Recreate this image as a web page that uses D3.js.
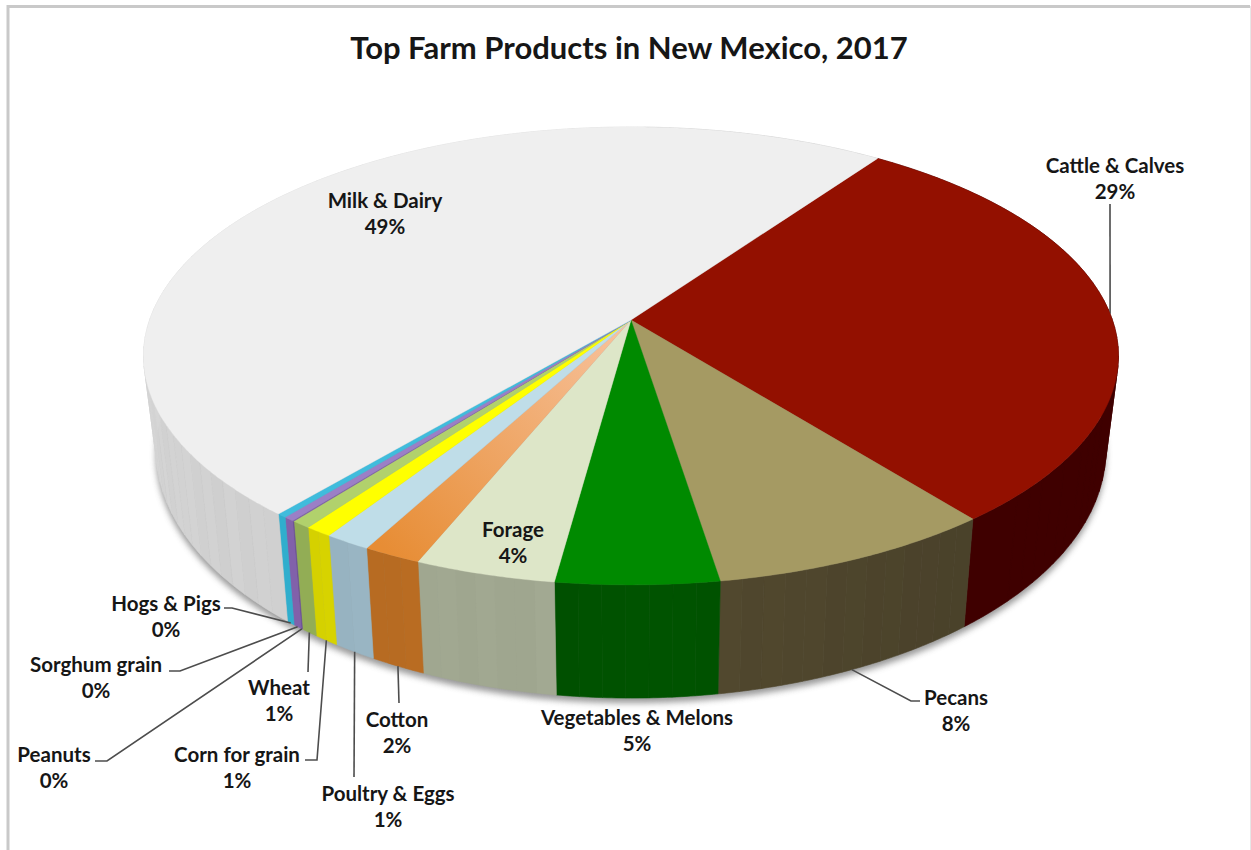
<!DOCTYPE html>
<html>
<head>
<meta charset="utf-8">
<title>Top Farm Products in New Mexico, 2017</title>
<script src="https://d3js.org/d3.v7.min.js"></script>
<style>
  html, body { margin: 0; padding: 0; background: #fff; }
  svg { display: block; }
  text { font-family: Lato, "Open Sans", sans-serif; fill: #161616; }
</style>
</head>
<body>
<div id="chart"></div>
<script>
// share of farm receipts, percent, clockwise from the top right
var products = ["Cattle & Calves", "Pecans", "Vegetables & Melons", "Forage", "Cotton",
  "Poultry & Eggs", "Corn for grain", "Wheat", "Peanuts", "Sorghum grain", "Hogs & Pigs", "Milk & Dairy"];
var shares = [29.49, 8.2, 4.65, 4.03, 1.67, 1.33, 0.78, 0.56, 0.05, 0.3, 0.28, 48.66];

var topColors = ["#931000", "#a59a63", "#008a00", "#dde6c8", "#e98f38", "#bfdde8",
  "#ffff00", "#b1d16c", "#7d5fa8", "#9b7fc6", "#40bcdc", "#efefef"];
var wallColors = ["#3f0000", "#4f462d", "#005000", "#a0a790", "#b86c22", "#98b4c2",
  "#d6d200", "#93ae55", "#6b4f94", "#8060a8", "#30aecd", "#d0d0d0"];

// label centre and baseline of the first line, then the leader's elbow points
var labelLayout = {
  "Cattle & Calves": { x: 1115, y: 173, leader: [[1110, 204]], rim: 0 },
  "Pecans": { x: 956, y: 705, leader: [[911, 701], [920, 701]], rim: 1 },
  "Vegetables & Melons": { x: 637, y: 725 },
  "Forage": { x: 513, y: 537 },
  "Cotton": { x: 397, y: 727, leader: [[399, 703]], rim: 1 },
  "Poultry & Eggs": { x: 388, y: 801, leader: [[354, 777]], rim: 1 },
  "Corn for grain": { x: 237, y: 762, leader: [[317, 760], [305, 760]], rim: 1 },
  "Wheat": { x: 279, y: 695, leader: [[308, 672]], rim: 1 },
  "Peanuts": { x: 54, y: 762, leader: [[107, 761], [95, 761]], rim: 1 },
  "Sorghum grain": { x: 96, y: 672, leader: [[180, 671], [169, 671]], rim: 1 },
  "Hogs & Pigs": { x: 166, y: 611, leader: [[232, 608], [224, 608]], rim: 1 },
  "Milk & Dairy": { x: 385, y: 208 }
};

var svgWidth = 1251;
var svgHeight = 850;

var svg = d3.select("#chart")
  .append("svg")
  .attr("width", svgWidth)
  .attr("height", svgHeight);

// outer frame, its bottom edge runs off the page
svg.append("path")
  .attr("d", `M8,${svgHeight + 5}V6.5H1250`)
  .attr("fill", "none")
  .attr("stroke", "#c9c9c9")
  .attr("stroke-width", 3);
svg.append("line")
  .attr("x1", 1250.5).attr("x2", 1250.5)
  .attr("y1", 6).attr("y2", svgHeight)
  .attr("stroke", "#e6e6e6");

svg.append("text")
  .attr("x", 629)
  .attr("y", 59)
  .attr("text-anchor", "middle")
  .attr("font-size", 31)
  .attr("font-weight", 700)
  .text("Top Farm Products in New Mexico, 2017");

var pie = d3.pie()
  .value(d => d.share)
  .sort(null)
  .startAngle(35.3 * Math.PI / 180)
  .endAngle(395.3 * Math.PI / 180);

var slices = pie(products.map((name, i) => ({
  name: name,
  share: shares[i],
  top: topColors[i],
  wall: wallColors[i]
})));

// perspective disc: level 0 is the top face, level 1 the bottom edge
var discs = [
  { cx: 631, cy: 320, sx: 481.4, sy: 223.3 },
  { cx: 631, cy: 411, sx: 469, sy: 242 }
];
var tilt = 0.157;

function project(angle, level) {
  var disc = discs[level];
  var u = Math.sin(angle);
  var v = -Math.cos(angle);
  var w = 1 - tilt * v;
  return [disc.cx + disc.sx * u / w, disc.cy + disc.sy * v / w];
}

function arcAngles(a0, a1, step) {
  var n = Math.max(1, Math.ceil((a1 - a0) / step));
  return d3.range(n + 1).map(i => a0 + (a1 - a0) * i / n);
}

var line = d3.line();
var fineStep = 0.5 * Math.PI / 180;
var facetStep = 2.4 * Math.PI / 180;

var defs = svg.append("defs");

var blur = defs.append("filter")
  .attr("id", "discShadow")
  .attr("x", "-10%").attr("y", "-10%")
  .attr("width", "120%").attr("height", "120%");
blur.append("feGaussianBlur").attr("stdDeviation", 3);

// the cotton face lightens towards the centre
var cotton = slices.find(d => d.data.name == "Cotton");
var cottonRim = project((cotton.startAngle + cotton.endAngle) / 2, 0);
var cottonFade = defs.append("linearGradient")
  .attr("id", "cottonFade")
  .attr("gradientUnits", "userSpaceOnUse")
  .attr("x1", discs[0].cx).attr("y1", discs[0].cy)
  .attr("x2", cottonRim[0]).attr("y2", cottonRim[1]);
cottonFade.append("stop").attr("offset", 0).attr("stop-color", "#f8c4a0");
cottonFade.append("stop").attr("offset", 1).attr("stop-color", "#e78d35");

// soft shadow under the bottom edge
svg.append("path")
  .attr("d", line(arcAngles(0, 2 * Math.PI, fineStep).map(a => project(a, 1))) + "Z")
  .attr("transform", "translate(0, 5)")
  .attr("fill", "#777")
  .attr("opacity", 0.75)
  .attr("filter", "url(#discShadow)");

// one quad of the rim wall between two angles, always wound the same way
function wallQuad(a0, a1) {
  var along = arcAngles(a0, a1, fineStep);
  var outline = along.map(a => project(a, 0))
    .concat(along.slice().reverse().map(a => project(a, 1)));
  if (d3.polygonArea(outline) < 0) outline.reverse();
  return line(outline) + "Z";
}

// walls are thin facets so the shading steps around the rim
var facetTone = [0.015, -0.01, 0.025, 0, 0.01, -0.02, 0.02, -0.015];
var wallShade = d3.scaleLinear()
  .domain([140, 175, 190, 225, 290])
  .range([-0.22, 0.12, 0, 0, 0.1])
  .clamp(true);

var walls = svg.append("g");
slices.forEach(function(d) {
  var edges = arcAngles(d.startAngle, d.endAngle, facetStep);
  var wedges = d3.pairs(edges);
  // the cattle wall is one flat colour, so its facets share a path
  if (d.data.name == "Cattle & Calves") {
    walls.append("path")
      .attr("d", wedges.map(p => wallQuad(p[0], p[1])).join(""))
      .attr("fill", d.data.wall)
      .attr("stroke", d.data.wall)
      .attr("stroke-width", 0.6);
    return;
  }
  wedges.forEach(function(pair) {
    var degrees = (pair[0] * 180 / Math.PI) % 360;
    var facet = Math.floor(pair[0] / facetStep) % facetTone.length;
    var fill = d3.color(d.data.wall).brighter(wallShade(degrees) + facetTone[facet]).formatHex();
    walls.append("path")
      .attr("d", wallQuad(pair[0], pair[1]))
      .attr("fill", fill)
      .attr("stroke", fill)
      .attr("stroke-width", 0.6);
  });
});

// leader lines run from each slice's rim out to its label
var leaders = svg.append("g");
slices.forEach(function(d) {
  var layout = labelLayout[d.data.name];
  if (!layout.leader) return;
  var mid = (d.startAngle + d.endAngle) / 2;
  leaders.append("path")
    .attr("d", line([project(mid, layout.rim)].concat(layout.leader)))
    .attr("fill", "none")
    .attr("stroke", "#4d4d4d")
    .attr("stroke-width", 1.6);
});

// top face
svg.append("g")
  .selectAll("path")
  .data(slices)
  .enter()
  .append("path")
  .attr("d", function(d) {
    var rim = arcAngles(d.startAngle, d.endAngle, fineStep).map(a => project(a, 0));
    return line([[discs[0].cx, discs[0].cy]].concat(rim)) + "Z";
  })
  .attr("fill", d => d.data.name == "Cotton" ? "url(#cottonFade)" : d.data.top)
  .attr("stroke", d => d.data.name == "Cotton" ? "none" : d.data.top)
  .attr("stroke-width", 0.4);

// two line labels: name above, rounded share below
var labels = svg.append("g")
  .selectAll("text")
  .data(slices)
  .enter()
  .append("text")
  .attr("text-anchor", "middle")
  .attr("font-size", 20.5)
  .attr("font-weight", 700);

labels.append("tspan")
  .attr("x", d => labelLayout[d.data.name].x)
  .attr("y", d => labelLayout[d.data.name].y)
  .text(d => d.data.name);

labels.append("tspan")
  .attr("x", d => labelLayout[d.data.name].x)
  .attr("y", d => labelLayout[d.data.name].y + 26)
  .text(d => Math.round(d.data.share) + "%");
</script>
</body>
</html>
